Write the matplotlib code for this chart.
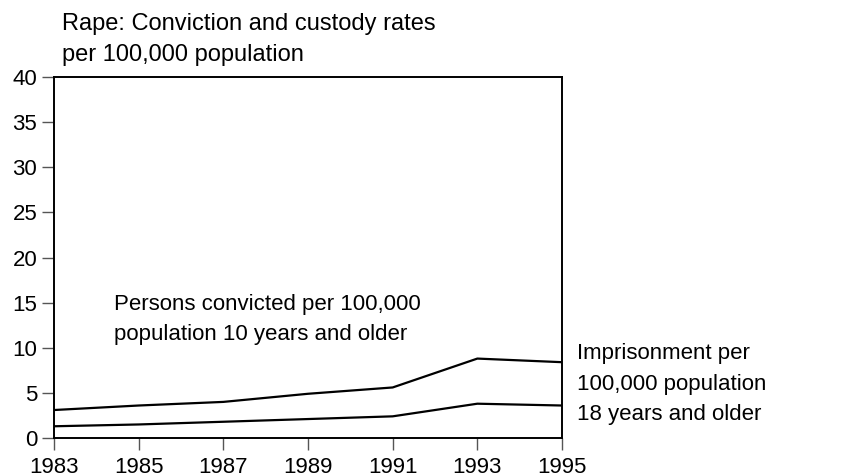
import matplotlib
matplotlib.use('Agg')
import matplotlib.pyplot as plt

years = [1983, 1985, 1987, 1989, 1991, 1993, 1995]
convicted = [3.1, 3.6, 4.0, 4.9, 5.6, 8.8, 8.4]
imprisoned = [1.3, 1.5, 1.8, 2.1, 2.4, 3.8, 3.6]
yticks = [0, 5, 10, 15, 20, 25, 30, 35, 40]

plt.rcParams['font.family'] = ['Liberation Sans', 'DejaVu Sans']

fig = plt.figure(figsize=(8.42, 4.76), dpi=100)
ax = fig.add_axes([54 / 842, 1 - 438 / 476, (562 - 54) / 842, (438 - 77) / 476])

ax.plot(years, convicted, color='black', lw=1.6)
ax.plot(years, imprisoned, color='black', lw=1.6)

ax.set_xlim(1983, 1995)
ax.set_ylim(0, 40)
ax.set_xticks(years)
ax.set_yticks(yticks)
for s in ax.spines.values():
    s.set_linewidth(1.4)
ax.tick_params(axis='both', direction='out', length=8.5, width=1, color='#555555',
               labelsize=16)
ax.tick_params(axis='x', pad=5.5)
ax.tick_params(axis='y', pad=3.5)

fig.text(62 / 842, 1 - 13 / 476, 'Rape: Conviction and custody rates\nper 100,000 population',
         fontsize=17, va='top', ha='left', linespacing=1.5)
fig.text(114 / 842, 1 - 294 / 476, 'Persons convicted per 100,000\npopulation 10 years and older',
         fontsize=16, va='top', ha='left', linespacing=1.55)
fig.text(577 / 842, 1 - 343 / 476, 'Imprisonment per\n100,000 population\n18 years and older',
         fontsize=16, va='top', ha='left', linespacing=1.6)

fig.savefig('out.png', dpi=100)
